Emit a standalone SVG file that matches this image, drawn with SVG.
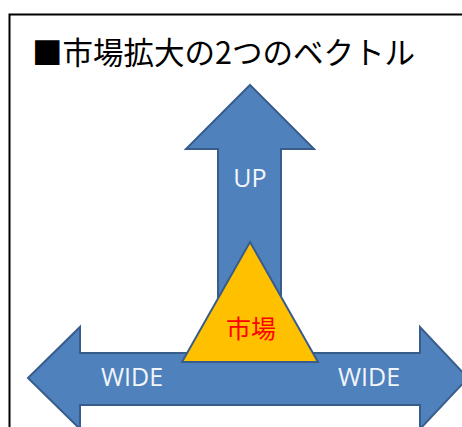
<svg xmlns="http://www.w3.org/2000/svg" width="462" height="427" viewBox="0 0 462 427">
<style>
.arrow{fill:#4F81BD;stroke:#385D8A;stroke-width:2;stroke-linejoin:miter}
.lbl{font-family:"Open Sans","Noto Sans",sans-serif;font-size:25px;fill:#F2F5FA;text-anchor:middle}
.title{font-family:"Noto Sans CJK JP",sans-serif;font-size:31px;fill:#000}
</style>
<rect width="462" height="427" fill="#fff"/>
<g id="frame"><rect x="9.5" y="14.5" width="470" height="430" fill="none" stroke="#000" stroke-width="2"/></g>
<g id="title"><text class="title" x="32" y="64" textLength="383" lengthAdjust="spacingAndGlyphs">■市場拡大の2つのベクトル</text></g>
<g id="connectors">
<g id="up-arrow">
<polygon class="arrow" points="250,85 314,149 281,149 281,360 218,360 218,149 186,149"/>
<text class="lbl" x="250" y="187">UP</text>
</g>
<g id="wide-arrow">
<polygon class="arrow" points="28,378 80,327 80,353 420,353 420,327 468,378 420,429 420,405 80,405 80,429"/>
<text class="lbl" x="132" y="386">WIDE</text>
<text class="lbl" x="369" y="386">WIDE</text>
</g>
</g>
<g id="market">
<polygon points="250,242 318,362 182,362" fill="#FFC000" stroke="#385D8A" stroke-width="2" stroke-linejoin="miter"/>
<text x="251" y="338" font-family="Noto Sans CJK JP,sans-serif" font-size="25" fill="#FF0000" text-anchor="middle">市場</text>
</g>
</svg>
